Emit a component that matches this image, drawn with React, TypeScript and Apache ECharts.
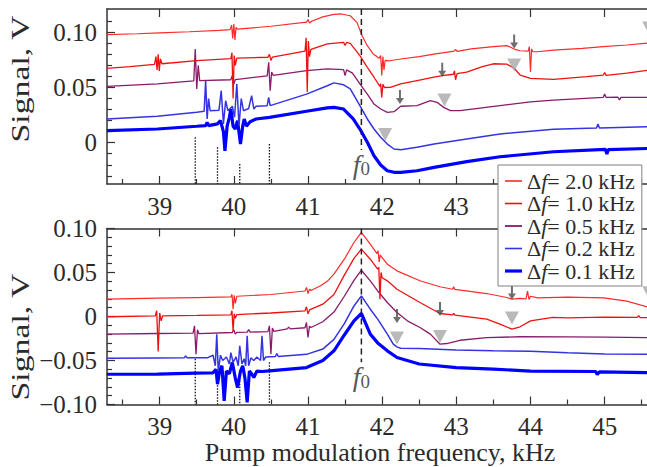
import React, { useEffect, useRef } from 'react';
import * as echarts from 'echarts';

const FONT = 'Liberation Serif';
const TEXT = '#2b2b2b';
const AXIS = '#333333';

const X_MIN = 38.29;
const X_MAX = 45.652;
const TOP_Y_MIN = -0.0374;
const TOP_Y_MAX = 0.1211;
const BOT_Y_MIN = -0.1;
const BOT_Y_MAX = 0.1;

const X_MAJOR = [39, 40, 41, 42, 43, 44, 45];
const X_LABELS_TOP = [39, 40, 41, 42, 43];
const X_MINOR = [38.5, 39.5, 40.5, 41.5, 42.5, 43.5, 44.5, 45.5];
const TOP_Y_MAJOR = [0, 0.05, 0.1];
const TOP_Y_MINOR = [-0.03, -0.02, -0.01, 0.01, 0.02, 0.03, 0.04, 0.06, 0.07, 0.08, 0.09, 0.11];
const BOT_Y_MAJOR = [-0.1, -0.05, 0, 0.05, 0.1];
const BOT_Y_MINOR = [-0.09, -0.08, -0.07, -0.06, -0.04, -0.03, -0.02, -0.01, 0.01, 0.02, 0.03, 0.04, 0.06, 0.07, 0.08, 0.09];

const NAMES = ['Δf= 2.0 kHz', 'Δf= 1.0 kHz', 'Δf= 0.5 kHz', 'Δf= 0.2 kHz', 'Δf= 0.1 kHz'];
const COLORS = ['#ff2a2a', '#ee1111', '#8a1a6a', '#3434e4', '#0000ff'];
const WIDTHS = [1.2, 1.3, 1.3, 1.5, 3.2];
const LEGEND_ICON_H = [1.6, 1.6, 1.8, 1.6, 3.2];

// ---- top panel series ----
const T20 = [[38.29,0.0979],[38.7,0.0987],[39.0,0.0995],[39.4,0.1005],[39.8,0.1018],
[39.95,0.1024],[39.97,0.1065],[39.985,0.0945],[40.0,0.1075],[40.015,0.093],[40.03,0.1045],[40.05,0.1028],
[40.5,0.1055],[40.98,0.1092],[41.0,0.1115],[41.02,0.1085],[41.05,0.1100],
[41.2,0.1140],[41.35,0.1162],[41.45,0.1166],[41.57,0.1150],[41.66,0.1090],[41.73,0.0969],[41.8,0.0879],[41.88,0.0803],[41.96,0.0765],
[41.98,0.0790],[41.995,0.061],[42.01,0.078],[42.025,0.066],[42.04,0.0745],
[42.1,0.0742],[42.25,0.0758],[42.5,0.078],[42.7,0.0803],[42.97,0.0830],[42.99,0.0845],[43.01,0.0828],[43.2,0.0850],[43.5,0.0870],[43.68,0.0879],[43.79,0.0846],[43.86,0.0833],[43.97,0.0830],[43.985,0.087],[44.0,0.064],[44.015,0.085],[44.03,0.0825],[44.09,0.0824],[44.31,0.0839],[44.7,0.0855],[44.98,0.0870],[45.3,0.0885],[45.65,0.0908]];

const T10 = [[38.29,0.0674],[38.6,0.0690],[38.93,0.0710],[38.95,0.0780],[38.965,0.0660],[38.98,0.0800],[38.995,0.0650],[39.01,0.0760],[39.03,0.0715],
[39.5,0.0743],[39.96,0.0762],[39.975,0.0815],[39.99,0.0400],[40.005,0.0790],[40.02,0.0700],[40.04,0.0766],
[40.46,0.0774],[40.48,0.0800],[40.5,0.0745],[40.52,0.0776],
[40.96,0.0830],[40.975,0.0950],[40.99,0.0460],[41.005,0.0920],[41.02,0.0780],[41.04,0.0845],
[41.26,0.0895],[41.48,0.0909],[41.5,0.0880],[41.52,0.0908],[41.57,0.0900],[41.7,0.0788],[41.8,0.0683],[41.89,0.0593],[41.97,0.0510],
[41.98,0.0535],[41.995,0.0410],[42.01,0.0530],[42.03,0.0500],[42.11,0.0502],[42.25,0.0532],[42.47,0.0562],[42.7,0.0593],[42.81,0.0607],[42.96,0.0620],[42.975,0.0650],[42.99,0.0570],[43.01,0.0625],[43.14,0.0640],[43.35,0.0690],[43.5,0.0715],[43.68,0.0712],[43.78,0.0674],[43.86,0.0613],[44.0,0.0583],[44.31,0.0574],[44.76,0.0598],[44.98,0.0613],[45.0,0.0635],[45.02,0.0610],[45.3,0.0630],[45.65,0.0662]];

const T05 = [[38.29,0.0511],[38.97,0.0532],[39.46,0.0560],[39.48,0.0849],[39.5,0.0486],[39.52,0.0700],[39.54,0.0562],
[39.96,0.0570],[39.98,0.0607],[40.0,0.0532],[40.02,0.0572],
[40.45,0.0605],[40.47,0.0729],[40.49,0.0471],[40.51,0.0640],[40.53,0.0610],
[40.98,0.0653],[41.26,0.0669],[41.48,0.0662],[41.5,0.0607],[41.52,0.0660],[41.6,0.0630],[41.7,0.0532],[41.8,0.0441],[41.89,0.0350],[41.98,0.0305],[42.07,0.0275],[42.16,0.0281],[42.25,0.0330],[42.47,0.0336],[42.65,0.0381],[42.74,0.0366],[42.83,0.0320],[42.92,0.0290],[43.05,0.0290],[43.59,0.0336],[44.0,0.0370],[44.31,0.0385],[44.98,0.0410],[45.0,0.0440],[45.02,0.0410],[45.18,0.0412],[45.2,0.0387],[45.22,0.0411],[45.65,0.0411]];

const T02 = [[38.29,0.0215],[38.97,0.0239],[39.5,0.0275],[39.6,0.0285],[39.62,0.0562],[39.64,0.0215],[39.66,0.0400],[39.68,0.0290],
[39.8,0.0295],[39.83,0.0471],[39.86,0.0170],[39.89,0.0380],[39.92,0.0290],[39.98,0.0330],[40.01,0.0230],
[40.04,0.0532],[40.07,0.0154],[40.1,0.0400],[40.13,0.0290],[40.2,0.0310],[40.24,0.0426],[40.27,0.0305],[40.3,0.0330],
[40.45,0.0335],[40.47,0.0411],[40.49,0.0336],[40.98,0.0440],[41.26,0.0516],[41.35,0.0542],[41.48,0.0524],[41.57,0.0487],[41.7,0.0336],[41.8,0.0215],[41.89,0.0124],[41.98,0.0049],[42.07,-0.0012],[42.16,-0.0057],[42.25,-0.0063],[42.47,-0.0042],[42.7,-0.0012],[43.14,0.0034],[43.59,0.0079],[44.31,0.0121],[44.89,0.0133],[44.91,0.0170],[44.93,0.0134],[45.65,0.0145]];

const T01 = [[38.29,0.0109],[38.97,0.0124],[39.5,0.0149],[39.62,0.0155],[39.64,0.0185],[39.66,0.0155],[39.78,0.0170],[39.82,0.0200],[39.86,0.0100],[39.88,-0.0073],[39.91,0.0150],[39.94,0.0230],[39.96,0.0305],[39.99,0.0150],[40.02,0.0124],[40.05,0.0200],[40.09,-0.0012],[40.12,0.0150],[40.14,0.0215],[40.17,0.0150],[40.22,0.0190],[40.3,0.0215],[40.48,0.0230],[40.98,0.0285],[41.26,0.0315],[41.35,0.0320],[41.48,0.0305],[41.61,0.0215],[41.7,0.0124],[41.8,0.0004],[41.89,-0.0118],[41.98,-0.0202],[42.07,-0.0254],[42.16,-0.0268],[42.25,-0.0268],[42.47,-0.0254],[42.7,-0.0223],[43.14,-0.0172],[43.59,-0.0127],[44.31,-0.0082],[45.01,-0.0060],[45.03,-0.0102],[45.05,-0.0062],[45.65,-0.0051]];

// ---- bottom panel series ----
const B20 = [[38.29,0.0197],[38.97,0.0208],[39.5,0.0215],[39.96,0.0222],[39.975,0.0253],[39.99,0.0083],[40.005,0.0240],[40.02,0.0150],[40.04,0.0230],[40.5,0.0250],[40.96,0.0290],[40.98,0.0330],[41.0,0.0260],[41.02,0.0310],[41.04,0.0295],[41.17,0.0349],[41.26,0.0400],[41.35,0.0481],[41.49,0.0651],[41.62,0.0841],[41.72,0.0955],[41.84,0.0822],[41.93,0.0715],[41.945,0.0747],[41.96,0.0620],[41.975,0.0700],[41.99,0.0680],[42.07,0.0594],[42.2,0.0519],[42.51,0.0406],[42.78,0.0338],[42.95,0.0310],[42.965,0.0337],[42.98,0.0308],[43.41,0.0261],[43.68,0.0216],[43.75,0.0197],[43.86,0.0205],[43.94,0.0200],[43.96,0.0288],[43.98,0.0193],[44.0,0.0230],[44.1,0.0212],[44.5,0.0220],[44.99,0.0212],[45.3,0.0174],[45.65,0.0090]];

const B10 = [[38.29,-0.0003],[38.94,0.0006],[38.96,0.0065],[38.98,-0.0398],[39.0,0.0040],[39.02,-0.0050],[39.04,0.0008],[39.5,0.0012],[39.96,0.0019],[39.975,0.0065],[39.99,-0.0163],[40.005,0.0030],[40.02,-0.0020],[40.04,0.0022],[40.5,0.0040],[40.96,0.0065],[40.98,0.0110],[41.0,0.0030],[41.02,0.0075],[41.2,0.0140],[41.35,0.0250],[41.49,0.0470],[41.62,0.0660],[41.72,0.0765],[41.84,0.0651],[41.94,0.0538],[41.955,0.0560],[41.97,0.0197],[41.985,0.0500],[42.0,0.0440],[42.07,0.0405],[42.2,0.0310],[42.51,0.0159],[42.78,0.0034],[42.95,0.0019],[42.965,0.0035],[42.98,0.0015],[43.41,-0.0030],[43.59,-0.0087],[43.75,-0.0144],[43.86,-0.0117],[44.0,-0.0049],[44.3,-0.0010],[44.5,-0.0015],[45.0,-0.0008],[45.44,-0.0010],[45.46,0.0010],[45.48,-0.0012],[45.65,-0.0015]];

const B05 = [[38.29,-0.0201],[38.97,-0.0193],[39.45,-0.0190],[39.47,-0.0106],[39.49,-0.0428],[39.51,-0.0150],[39.53,-0.0195],[39.98,-0.0182],[40.0,-0.0150],[40.02,-0.0200],[40.04,-0.0180],[40.18,-0.0178],[40.2,-0.0150],[40.22,-0.0177],[40.46,-0.0172],[40.48,-0.0106],[40.5,-0.0428],[40.52,-0.0130],[40.54,-0.0170],[40.72,-0.0140],[40.74,-0.0120],[40.76,-0.0140],[40.96,-0.0128],[40.98,-0.0068],[41.0,-0.0239],[41.02,-0.0110],[41.04,-0.0125],[41.2,-0.0060],[41.35,0.0050],[41.49,0.0230],[41.62,0.0410],[41.72,0.0526],[41.84,0.0405],[41.94,0.0290],[42.07,0.0159],[42.2,0.0045],[42.34,-0.0049],[42.51,-0.0125],[42.65,-0.0200],[42.78,-0.0315],[42.87,-0.0307],[43.05,-0.0270],[43.41,-0.0239],[43.86,-0.0230],[44.5,-0.0232],[45.0,-0.0235],[45.65,-0.0240]];

const B02 = [[38.29,-0.0474],[38.97,-0.0472],[39.33,-0.0470],[39.35,-0.0447],[39.37,-0.0470],[39.65,-0.0468],[39.72,-0.0440],[39.75,-0.0560],[39.77,-0.0201],[39.79,-0.0620],[39.82,-0.0440],[39.85,-0.0500],[39.9,-0.0460],[39.94,-0.0540],[39.96,-0.0410],[39.99,-0.0520],[40.03,-0.0460],[40.06,-0.0560],[40.08,-0.0333],[40.11,-0.0540],[40.14,-0.0480],[40.16,-0.0560],[40.18,-0.0220],[40.2,-0.0560],[40.23,-0.0470],[40.27,-0.0500],[40.31,-0.0460],[40.36,-0.0500],[40.38,-0.0220],[40.4,-0.0500],[40.43,-0.0460],[40.56,-0.0455],[40.58,-0.0420],[40.6,-0.0455],[40.98,-0.0430],[41.2,-0.0370],[41.35,-0.0260],[41.49,-0.0080],[41.62,0.0120],[41.72,0.0235],[41.84,0.0083],[41.94,-0.0030],[42.07,-0.0200],[42.15,-0.0315],[42.2,-0.0345],[42.25,-0.0360],[42.5,-0.0364],[43.0,-0.0380],[43.5,-0.0390],[44.0,-0.0394],[44.5,-0.0413],[45.0,-0.0425],[45.65,-0.0430]];

const B01 = [[38.29,-0.0656],[38.97,-0.0654],[39.48,-0.0644],[39.64,-0.0642],[39.72,-0.0640],[39.76,-0.0600],[39.78,-0.0769],[39.81,-0.0610],[39.84,-0.0560],[39.87,-0.0958],[39.9,-0.0620],[39.94,-0.0650],[39.98,-0.0523],[40.02,-0.0700],[40.05,-0.0807],[40.09,-0.0620],[40.12,-0.0560],[40.15,-0.0700],[40.18,-0.0977],[40.21,-0.0620],[40.24,-0.0650],[40.27,-0.0693],[40.31,-0.0620],[40.38,-0.0625],[40.48,-0.0617],[40.98,-0.0580],[41.2,-0.0500],[41.35,-0.0390],[41.49,-0.0210],[41.62,-0.0050],[41.72,0.0034],[41.84,-0.0200],[41.94,-0.0300],[42.07,-0.0390],[42.2,-0.0466],[42.5,-0.0540],[43.0,-0.0580],[43.5,-0.0598],[44.0,-0.0620],[44.88,-0.0625],[44.9,-0.0660],[44.93,-0.0630],[45.65,-0.0640]];

// ---- annotations ----
const F0 = 41.72;
const F0_LINE_END = [-0.0066, -0.052];
const DOTTED_X = [39.48, 39.78, 40.08, 40.48];
const DOTTED_TOP_START = [0.0049, -0.0042, -0.0193, -0.0012];
const DOTTED_BOT_START = [-0.048, -0.061, -0.073, -0.052];
const ARROWS_TOP = [[43.78, 0.0917], [42.81, 0.0660], [42.24, 0.0414]];
const TRIS_TOP = [[43.78, 0.0704], [42.84, 0.0386], [42.04, 0.0074], [45.6, 0.104]];
const ARROWS_BOT = [[43.75, 0.0273], [42.78, 0.0085], [42.2, 0.0006]];
const TRIS_BOT = [[43.75, -0.0017], [42.78, -0.0227], [42.2, -0.0244], [45.6, 0.027]];

const ARROW_PATH = 'path://M3,0 L5,0 L5,8 L8,8 L4,14 L0,8 L3,8 Z';

function fmtY(v: number) {
  if (Math.abs(v) < 1e-9) return '0';
  return (v < 0 ? '\u2212' : '') + Math.abs(v).toFixed(2);
}

function buildOption() {
  const grids = [
    { left: 107, top: 9, width: 546, height: 175, outerBoundsMode: 'none', containLabel: false },
    { left: 107, top: 228.5, width: 546, height: 176, outerBoundsMode: 'none', containLabel: false },
  ];
  const lineStyle = { color: AXIS, width: 1.5 };
  const xAxis: any[] = [];
  const yAxis: any[] = [];
  [0, 1].forEach((g) => {
    const labels = g === 0 ? X_LABELS_TOP : X_MAJOR;
    xAxis.push({
      type: 'value', gridIndex: g, min: X_MIN, max: X_MAX, position: 'bottom',
      axisLine: { show: true, onZero: false, lineStyle },
      axisTick: { show: true, inside: true, length: 8, customValues: X_MAJOR, lineStyle: { color: AXIS, width: 1.2 } },
      axisLabel: { show: true, customValues: labels, margin: g === 0 ? 10 : 9, fontSize: 25, fontFamily: FONT, color: TEXT, formatter: (v: number) => String(Math.round(v)) },
      splitLine: { show: false },
      name: g === 1 ? 'Pump modulation frequency, kHz' : '',
      nameLocation: 'middle', nameGap: 30,
      nameTextStyle: { fontSize: 26, fontFamily: FONT, color: TEXT },
    });
    xAxis.push({
      type: 'value', gridIndex: g, min: X_MIN, max: X_MAX, position: 'top',
      axisLine: { show: true, onZero: false, lineStyle },
      axisTick: { show: true, inside: true, length: 8, customValues: X_MAJOR, lineStyle: { color: AXIS, width: 1.2 } },
      axisLabel: { show: false }, splitLine: { show: false },
    });
    xAxis.push({
      type: 'value', gridIndex: g, min: X_MIN, max: X_MAX, position: 'bottom',
      axisLine: { show: false, onZero: false },
      axisTick: { show: true, inside: true, length: 5, customValues: X_MINOR, lineStyle: { color: AXIS, width: 1.2 } },
      axisLabel: { show: false }, splitLine: { show: false },
    });
    const ymin = g === 0 ? TOP_Y_MIN : BOT_Y_MIN;
    const ymax = g === 0 ? TOP_Y_MAX : BOT_Y_MAX;
    const major = g === 0 ? TOP_Y_MAJOR : BOT_Y_MAJOR;
    const minor = g === 0 ? TOP_Y_MINOR : BOT_Y_MINOR;
    yAxis.push({
      type: 'value', gridIndex: g, min: ymin, max: ymax, position: 'left',
      axisLine: { show: true, onZero: false, lineStyle },
      axisTick: { show: true, inside: true, length: 8, customValues: major, lineStyle: { color: AXIS, width: 1.2 } },
      axisLabel: { show: true, customValues: major, margin: 10, fontSize: 25, fontFamily: FONT, color: TEXT, formatter: fmtY },
      splitLine: { show: false },
    });
    yAxis.push({
      type: 'value', gridIndex: g, min: ymin, max: ymax, position: 'left',
      axisLine: { show: false, onZero: false },
      axisTick: { show: true, inside: true, length: 5, customValues: minor, lineStyle: { color: AXIS, width: 1.2 } },
      axisLabel: { show: false }, splitLine: { show: false },
    });
  });

  const series: any[] = [];
  const panels = [
    { xi: 0, yi: 0, data: [T20, T10, T05, T02, T01], ymin: TOP_Y_MIN, ymax: TOP_Y_MAX, dotted: DOTTED_TOP_START, arrows: ARROWS_TOP, tris: TRIS_TOP, f0End: F0_LINE_END[0] },
    { xi: 3, yi: 2, data: [B20, B10, B05, B02, B01], ymin: BOT_Y_MIN, ymax: BOT_Y_MAX, dotted: DOTTED_BOT_START, arrows: ARROWS_BOT, tris: TRIS_BOT, f0End: F0_LINE_END[1] },
  ];
  panels.forEach((p) => {
    DOTTED_X.forEach((x, i) => {
      series.push({
        type: 'line', xAxisIndex: p.xi, yAxisIndex: p.yi, silent: true, symbol: 'none',
        data: [[x, p.dotted[i]], [x, p.ymin]],
        lineStyle: { type: [1.5, 1.5], color: '#111', width: 1.3 }, z: 1,
      });
    });
    p.data.forEach((d, i) => {
      series.push({
        type: 'line', name: NAMES[i], xAxisIndex: p.xi, yAxisIndex: p.yi, data: d,
        symbol: 'none', silent: true, color: COLORS[i],
        lineStyle: { color: COLORS[i], width: WIDTHS[i] }, z: 2 + (4 - i) * 0.01,
      });
    });
    series.push({
      type: 'line', xAxisIndex: p.xi, yAxisIndex: p.yi, silent: true, symbol: 'none',
      data: [[F0, p.ymax], [F0, p.f0End]],
      lineStyle: { type: [6, 4], color: '#222', width: 1.5 }, z: 3,
    });
    series.push({
      type: 'scatter', xAxisIndex: p.xi, yAxisIndex: p.yi, silent: true,
      data: [[F0, p.f0End]], symbolSize: 1, itemStyle: { color: 'rgba(0,0,0,0)' },
      label: {
        show: true, position: 'bottom', distance: 0,
        formatter: '{i|f}{s|0}',
        rich: {
          i: { fontStyle: 'italic', fontSize: 28, fontFamily: FONT, color: TEXT, lineHeight: 28, verticalAlign: 'bottom' },
          s: { fontSize: 19, fontFamily: FONT, color: TEXT, lineHeight: 12, verticalAlign: 'bottom' },
        },
      }, z: 4,
    });
    series.push({
      type: 'scatter', xAxisIndex: p.xi, yAxisIndex: p.yi, silent: true,
      data: p.tris, symbol: 'triangle', symbolRotate: 180, symbolSize: [14, 13],
      itemStyle: { color: '#a8a8a8' }, z: 5,
    });
    series.push({
      type: 'scatter', xAxisIndex: p.xi, yAxisIndex: p.yi, silent: true,
      data: p.arrows, symbol: ARROW_PATH, symbolSize: [8, 14],
      itemStyle: { color: '#4a4a4a' }, z: 5,
    });
  });

  const legendData = NAMES.map((n, i) => ({
    name: n,
    icon: `path://M0,0 L17,0 L17,${LEGEND_ICON_H[i]} L0,${LEGEND_ICON_H[i]} Z`,
  }));

  return {
    animation: false,
    backgroundColor: '#ffffff',
    textStyle: { fontFamily: FONT },
    grid: grids,
    xAxis, yAxis, series,
    legend: {
      data: legendData, orient: 'vertical', left: 498, top: 165,
      padding: [5, 7, 4, 7], itemWidth: 17, itemHeight: 14, itemGap: 0.5,
      symbolKeepAspect: true,
      backgroundColor: '#ffffff', borderColor: '#808080', borderWidth: 1, borderRadius: 0,
      selectedMode: false, z: 10,
      formatter: (name: string) => '{t|\u0394}{i|f}{t|' + name.slice(2) + '}',
      textStyle: {
        color: TEXT, fontFamily: FONT, fontSize: 22, lineHeight: 20,
        rich: {
          t: { fontFamily: FONT, fontSize: 22, color: TEXT, lineHeight: 20 },
          i: { fontFamily: FONT, fontSize: 22, color: TEXT, lineHeight: 20, fontStyle: 'italic' },
        },
      },
    },
    graphic: [
      { type: 'text', x: 20, y: 79, rotation: Math.PI / 2, scaleX: 1.3, silent: true,
        style: { text: 'Signal, V', fontSize: 26, fontFamily: FONT, fill: TEXT, align: 'center', verticalAlign: 'middle' } },
      { type: 'text', x: 20, y: 337, rotation: Math.PI / 2, scaleX: 1.3, silent: true,
        style: { text: 'Signal, V', fontSize: 26, fontFamily: FONT, fill: TEXT, align: 'center', verticalAlign: 'middle' } },
    ],
  };
}

export default function App() {
  const ref = useRef<HTMLDivElement>(null);
  useEffect(() => {
    if (!ref.current) return;
    let disposed = false;
    const chart = echarts.init(ref.current, undefined, { renderer: 'svg' });
    chart.setOption(buildOption() as any);
    const fonts: any = (document as any).fonts;
    if (fonts && fonts.load) {
      Promise.all([
        fonts.load(`25px "${FONT}"`),
        fonts.load(`italic 25px "${FONT}"`),
      ]).then(() => {
        if (!disposed) chart.setOption(buildOption() as any, true);
      }).catch(() => {});
    }
    return () => {
      disposed = true;
      chart.dispose();
    };
  }, []);
  return (
    <div
      ref={ref}
      style={{ position: 'fixed', left: 0, top: 0, width: 647, height: 467, background: '#fff', fontFamily: FONT }}
    />
  );
}
